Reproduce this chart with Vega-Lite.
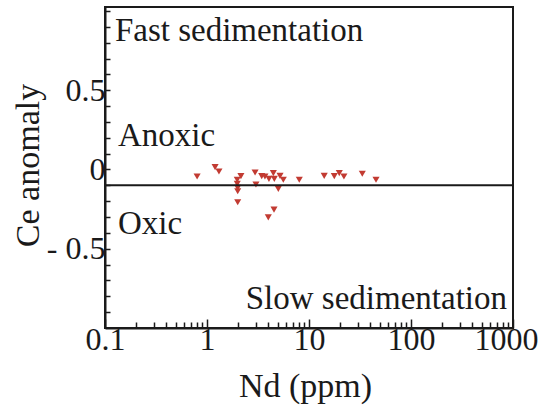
{
  "$schema": "https://vega.github.io/schema/vega-lite/v6.json",
  "width": 408,
  "height": 321,
  "autosize": "none",
  "padding": {"left": 105, "top": 7, "right": 29, "bottom": 77},
  "background": "white",
  "config": {
    "view": {"stroke": "#1a1a1a", "strokeWidth": 2},
    "font": "Liberation Serif",
    "text": {"font": "Liberation Serif", "fontSize": 33, "color": "#1a1a1a", "baseline": "alphabetic"},
    "axis": {
      "domainColor": "#1a1a1a",
      "domainWidth": 2,
      "tickColor": "#1a1a1a",
      "tickWidth": 1.5,
      "labelColor": "#1a1a1a",
      "titleColor": "#1a1a1a",
      "labelFont": "Liberation Serif",
      "titleFont": "Liberation Serif",
      "labelFontSize": 32,
      "titleFontSize": 34,
      "titleFontWeight": "normal",
      "grid": false,
      "labelOverlap": false,
      "labelFlush": false
    }
  },
  "data": {
    "values": [
      {"nd": 0.80, "ce": -0.044},
      {"nd": 1.20, "ce": 0.015},
      {"nd": 1.31, "ce": -0.013},
      {"nd": 1.98, "ce": -0.065},
      {"nd": 2.15, "ce": -0.042},
      {"nd": 1.98, "ce": -0.091},
      {"nd": 2.0, "ce": -0.116},
      {"nd": 2.0, "ce": -0.137},
      {"nd": 2.0, "ce": -0.207},
      {"nd": 2.96, "ce": -0.019},
      {"nd": 3.02, "ce": -0.095},
      {"nd": 3.44, "ce": -0.042},
      {"nd": 3.70, "ce": -0.044},
      {"nd": 4.05, "ce": -0.059},
      {"nd": 4.47, "ce": -0.023},
      {"nd": 4.57, "ce": -0.059},
      {"nd": 5.20, "ce": -0.040},
      {"nd": 5.60, "ce": -0.065},
      {"nd": 5.00, "ce": -0.122},
      {"nd": 4.54, "ce": -0.253},
      {"nd": 3.99, "ce": -0.302},
      {"nd": 8.03, "ce": -0.065},
      {"nd": 14.1, "ce": -0.040},
      {"nd": 17.7, "ce": -0.042},
      {"nd": 19.8, "ce": -0.023},
      {"nd": 22.0, "ce": -0.044},
      {"nd": 33.3, "ce": -0.027},
      {"nd": 45.4, "ce": -0.065}
    ]
  },
  "encoding": {
    "x": {
      "field": "nd",
      "type": "quantitative",
      "scale": {"type": "log", "domain": [0.1, 1000], "nice": false},
      "axis": {
        "title": "Nd (ppm)",
        "values": [0.1, 0.2, 0.3, 0.4, 0.5, 0.6, 0.7, 0.8, 0.9, 1, 2, 3, 4, 5, 6, 7, 8, 9, 10, 20, 30, 40, 50, 60, 70, 80, 90, 100, 200, 300, 400, 500, 600, 700, 800, 900, 1000],
        "labelExpr": "indexof([0.1, 1, 10, 100, 1000], datum.value) >= 0 ? format(datum.value, '~g') : ''",
        "labelOffset": {"condition": {"test": "datum.value == 1000", "value": -7}, "value": 0},
        "tickSize": {"condition": {"test": "indexof([0.1, 1, 10, 100, 1000], datum.value) >= 0", "value": -9}, "value": -6},
        "labelPadding": 5,
        "titleBaseline": "alphabetic",
        "titleX": 200,
        "titleY": 68
      }
    },
    "y": {
      "field": "ce",
      "type": "quantitative",
      "scale": {"domain": [-1, 1.025], "nice": false, "zero": false},
      "axis": {
        "title": "Ce anomaly",
        "values": [-0.9, -0.8, -0.7, -0.6, -0.5, -0.4, -0.3, -0.2, -0.1, 0, 0.1, 0.2, 0.3, 0.4, 0.5, 0.6, 0.7, 0.8, 0.9, 1],
        "labelExpr": "datum.value == 0.5 ? '0.5' : datum.value == 0 ? '0' : datum.value == -0.5 ? '- 0.5' : ''",
        "tickSize": -5,
        "labelPadding": 5,
        "titleBaseline": "bottom",
        "titleX": -60,
        "titleY": 158
      }
    }
  },
  "layer": [
    {
      "mark": {"type": "point", "shape": "triangle-down", "filled": true, "size": 50, "color": "#c23b32", "opacity": 1}
    },
    {
      "transform": [{"window": [{"op": "row_number", "as": "row"}]}, {"filter": "datum.row == 1"}],
      "mark": {"type": "rule", "color": "#1a1a1a", "strokeWidth": 2},
      "encoding": {"y": {"datum": -0.1}, "x": null}
    },
    {
      "transform": [{"window": [{"op": "row_number", "as": "row"}]}, {"filter": "datum.row == 1"}],
      "mark": {"type": "text", "align": "left"},
      "encoding": {"x": {"datum": 0.125}, "y": {"datum": 0.81}, "text": {"value": "Fast sedimentation"}}
    },
    {
      "transform": [{"window": [{"op": "row_number", "as": "row"}]}, {"filter": "datum.row == 1"}],
      "mark": {"type": "text", "align": "left"},
      "encoding": {"x": {"datum": 0.134}, "y": {"datum": 0.146}, "text": {"value": "Anoxic"}}
    },
    {
      "transform": [{"window": [{"op": "row_number", "as": "row"}]}, {"filter": "datum.row == 1"}],
      "mark": {"type": "text", "align": "left"},
      "encoding": {"x": {"datum": 0.134}, "y": {"datum": -0.41}, "text": {"value": "Oxic"}}
    },
    {
      "transform": [{"window": [{"op": "row_number", "as": "row"}]}, {"filter": "datum.row == 1"}],
      "mark": {"type": "text", "align": "right"},
      "encoding": {"x": {"datum": 873}, "y": {"datum": -0.88}, "text": {"value": "Slow sedimentation"}}
    }
  ]
}
